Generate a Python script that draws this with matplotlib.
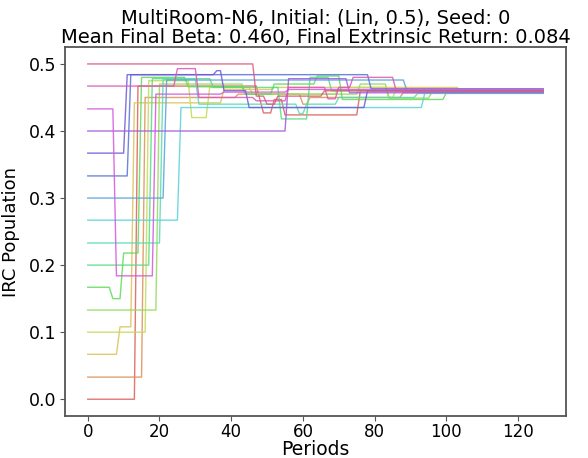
import matplotlib
matplotlib.use("Agg")
import matplotlib.pyplot as plt
import numpy as np
import seaborn as sns

N_PERIODS = 128

# (period, value) change points for each population member; value is held until the next change
beta_changes = [
    [(0, 0.0), (14, 0.467), (48, 0.447), (49, 0.427), (52, 0.447), (55, 0.424), (76, 0.46)],
    [(0, 0.033), (16, 0.45), (42, 0.455), (60, 0.44), (62, 0.45), (88, 0.457)],
    [(0, 0.067), (9, 0.108), (13, 0.442), (38, 0.462), (52, 0.465), (104, 0.46)],
    [(0, 0.1), (17, 0.475), (29, 0.42), (34, 0.465), (46, 0.455), (70, 0.465), (84, 0.45), (86, 0.462)],
    [(0, 0.133), (20, 0.47), (44, 0.455), (76, 0.47), (84, 0.449), (96, 0.458)],
    [(0, 0.167), (7, 0.15), (10, 0.218), (15, 0.48), (28, 0.466), (44, 0.455), (52, 0.47),
     (64, 0.482), (71, 0.447), (100, 0.457)],
    [(0, 0.2), (18, 0.478), (35, 0.465), (54, 0.418), (62, 0.48), (68, 0.46)],
    [(0, 0.233), (21, 0.477), (31, 0.44), (59, 0.426), (61, 0.44), (70, 0.45), (92, 0.456)],
    [(0, 0.267), (26, 0.435), (94, 0.457)],
    [(0, 0.3), (22, 0.476), (89, 0.46)],
    [(0, 0.333), (12, 0.484), (79, 0.463)],
    [(0, 0.367), (11, 0.484), (36, 0.49), (38, 0.46), (45, 0.435), (78, 0.46)],
    [(0, 0.4), (56, 0.478), (73, 0.457)],
    [(0, 0.433), (8, 0.184), (19, 0.455), (38, 0.458), (56, 0.462), (114, 0.462)],
    [(0, 0.467), (25, 0.493), (31, 0.45), (47, 0.445), (56, 0.465), (67, 0.448), (70, 0.465),
     (74, 0.48), (86, 0.46)],
    [(0, 0.5), (47, 0.452), (50, 0.44), (53, 0.452), (66, 0.46)],
]

env_name = "MultiRoom-N6"
initial = "(Lin, 0.5)"
seed = 0
mean_final_beta = 0.460
final_extrinsic_return = 0.084


def expand(changes, n):
    values = np.empty(n)
    for i, (start, v) in enumerate(changes):
        end = changes[i + 1][0] if i + 1 < len(changes) else n
        values[start:end] = v
    return values


def main():
    periods = np.arange(N_PERIODS)
    colors = sns.color_palette("hls", len(beta_changes))

    fig, ax = plt.subplots(figsize=(5.88, 4.58), dpi=100)
    fig.subplots_adjust(left=0.1105, right=0.9626, top=0.897, bottom=0.0917)
    for changes, c in zip(beta_changes, colors):
        ax.plot(periods, expand(changes, N_PERIODS), color=c, lw=1.0, alpha=0.85)

    ax.set_xticks(np.arange(0, 121, 20))
    ax.set_yticks(np.arange(0, 0.51, 0.1))
    ax.tick_params(labelsize=12.5, color="#555555", pad=3)
    ax.tick_params(axis="x", labelsize=12, pad=1.5)
    for s in ax.spines.values():
        s.set_color("#555555")
        s.set_linewidth(1.3)
    ax.set_xlabel("Periods", fontsize=13.5, labelpad=-1)
    ax.set_ylabel("IRC Population", fontsize=13, labelpad=6)
    ax.set_title(f"{env_name}, Initial: {initial}, Seed: {seed}\n"
                 f"Mean Final Beta: {mean_final_beta:.3f}, Final Extrinsic Return: {final_extrinsic_return:.3f}",
                 fontsize=14, pad=3, linespacing=1.05)
    fig.savefig("out.png", dpi=100)


if __name__ == "__main__":
    main()
